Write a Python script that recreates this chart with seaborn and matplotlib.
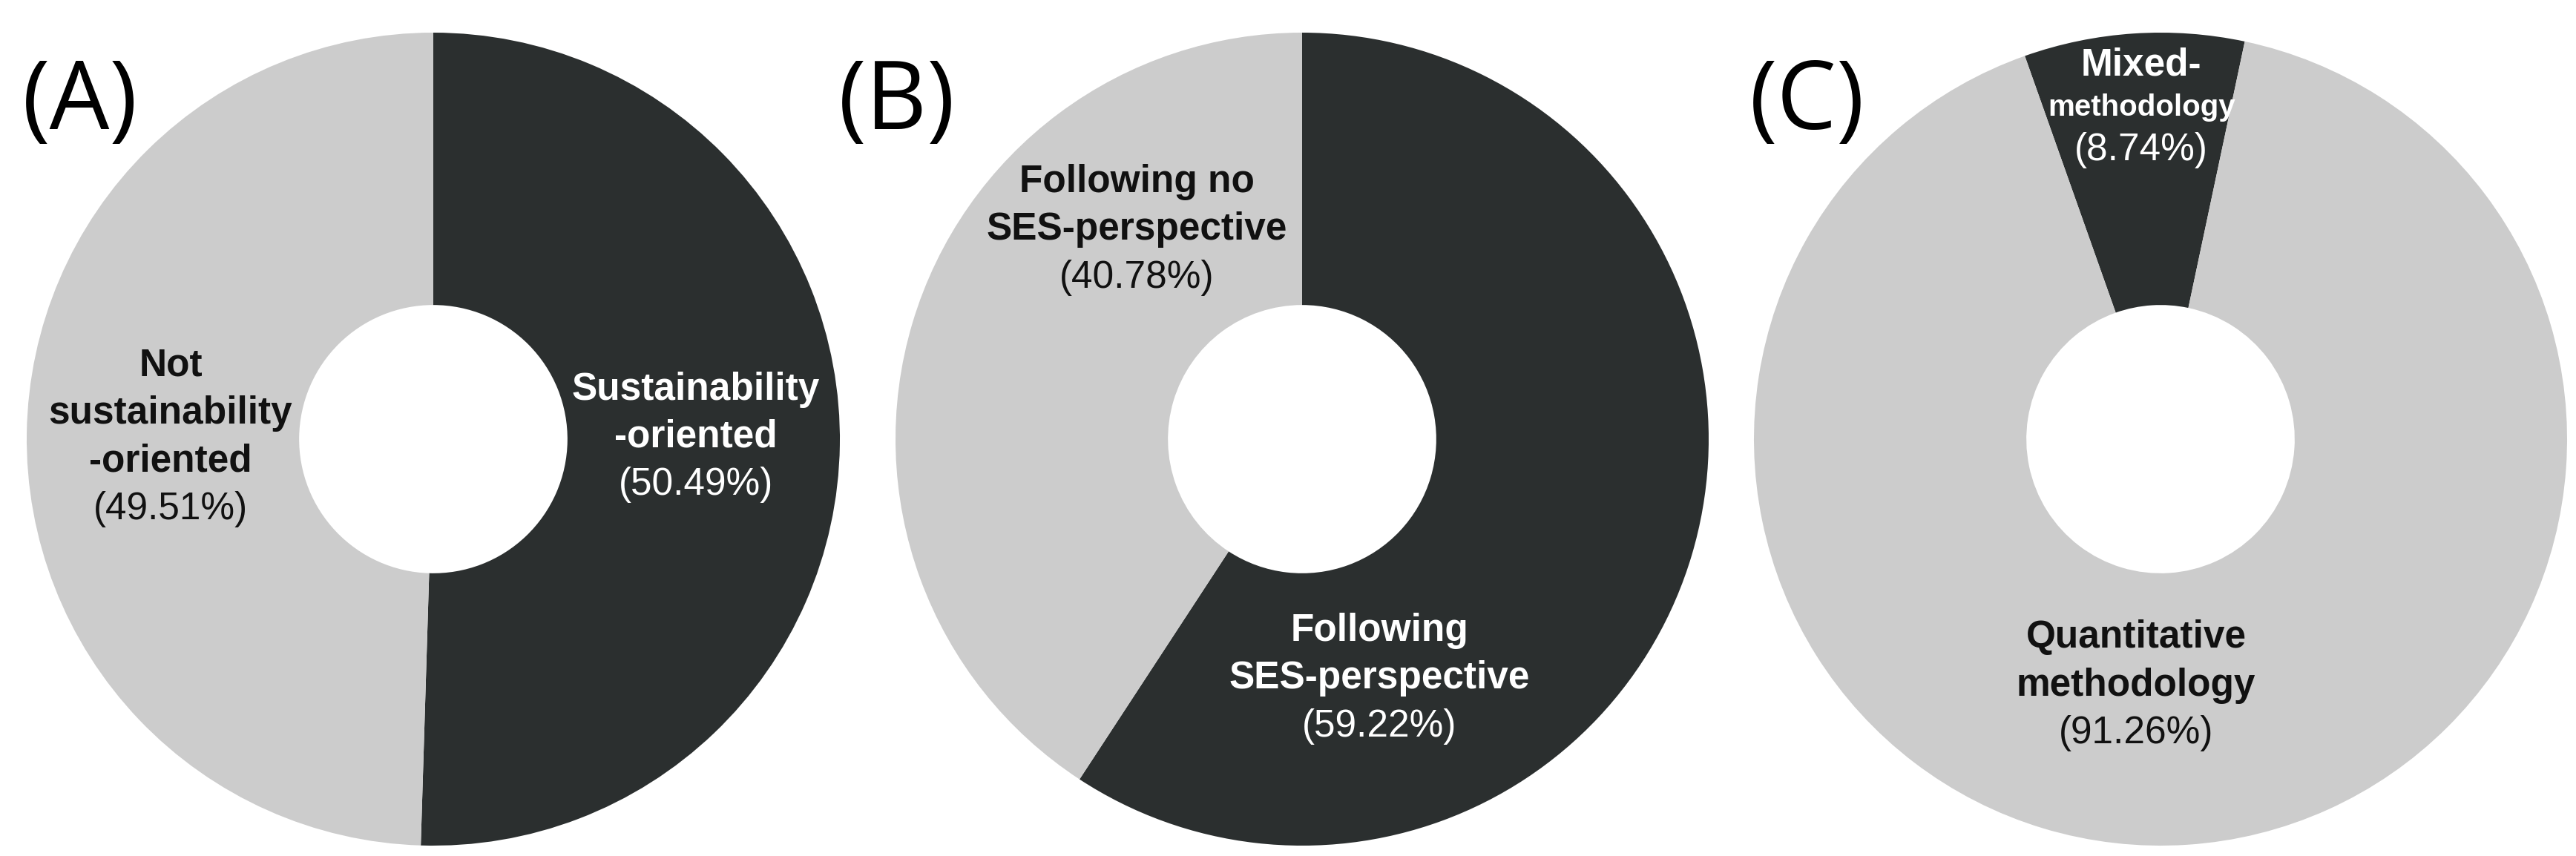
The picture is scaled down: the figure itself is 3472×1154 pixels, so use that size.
import matplotlib
matplotlib.use("Agg")
import matplotlib.pyplot as plt
import seaborn as sns

# --- data -----------------------------------------------------------------
panel_tags = ["(A)", "(B)", "(C)"]

a_labels = ["Sustainability\n-oriented", "Not\nsustainability\n-oriented"]
a_shares = [50.49, 49.51]

b_labels = ["Following\nSES-perspective", "Following no\nSES-perspective"]
b_shares = [59.22, 40.78]

c_labels = ["Mixed-\nmethodology", "Quantitative\nmethodology"]
c_shares = [8.74, 91.26]

# --- style ----------------------------------------------------------------
sns.set_theme(style="white")
plt.rcParams["font.family"] = ["Liberation Sans", "DejaVu Sans"]

DARK = "#2b2f2f"
LIGHT = "#cccccc"
HOLE = 0.33
FS = 37
LSP = 1.25

W, H, DPI = 34.72, 11.54, 100
fig = plt.figure(figsize=(W, H), dpi=DPI)

centers_px = [584, 1755, 2912]
cy_px = 592
r_px = 548

# label block centres in pie-radius units (hand placed like the original)
label_pos = [
    [(0.646, 0.005), (-0.646, 0.004)],
    [(0.19, -0.589), (-0.407, 0.515)],
    [(-0.047, 0.815), (-0.06, -0.606)],
]
start_angles = [90, 90, 109.5]
tag_x_px = [30, 1130, 2358]


def stack_text(ax, x, y, lines):
    """lines: list of (text, size, weight, color); stacked and centred at (x, y)."""
    heights = [LSP * s for _, s, _, _ in lines]
    total = sum(heights)
    top = total / 2
    for (txt, size, weight, color), h in zip(lines, heights):
        off = top - h / 2
        ax.annotate(txt, (x, y), xytext=(0, off), textcoords="offset points",
                    ha="center", va="center", fontsize=size, fontweight=weight,
                    color=color)
        top -= h


panels = [(a_labels, a_shares), (b_labels, b_shares), (c_labels, c_shares)]

for i, (labels, shares) in enumerate(panels):
    cx = centers_px[i]
    left = (cx - r_px) / (W * DPI)
    bottom = ((H * DPI - cy_px) - r_px) / (H * DPI)
    ax = fig.add_axes([left, bottom, 2 * r_px / (W * DPI), 2 * r_px / (H * DPI)])
    ax.pie(shares, colors=[DARK, LIGHT], startangle=start_angles[i],
           counterclock=False, radius=1,
           wedgeprops=dict(width=1 - HOLE, edgecolor="none", linewidth=0))
    ax.set_xlim(-1, 1)
    ax.set_ylim(-1, 1)
    ax.set_axis_off()

    for j, (lab, val) in enumerate(zip(labels, shares)):
        fg = "white" if j == 0 else "#111111"
        rows = []
        for k, ln in enumerate(lab.split("\n")):
            size = FS
            if i == 2 and j == 0 and k == 1:
                size = 29
            rows.append((ln, size, "bold", fg))
        rows.append((f"({val:.2f}%)", FS, "normal", fg))
        x, y = label_pos[i][j]
        stack_text(ax, x, y, rows)

    fig.text(tag_x_px[i] / (W * DPI), 1 - 76 / (H * DPI), panel_tags[i],
             ha="left", va="top", fontsize=92, family=["Open Sans", "DejaVu Sans"],
             color="black")

fig.savefig("out.png", dpi=DPI, facecolor="white")
